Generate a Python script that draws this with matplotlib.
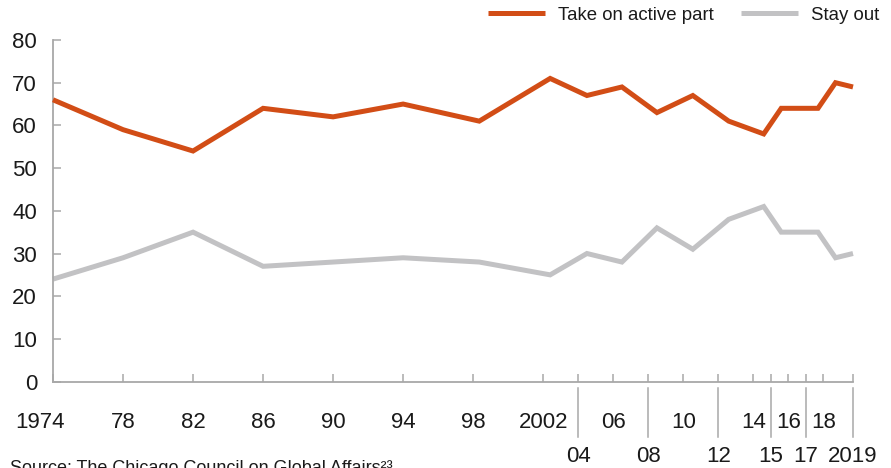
import matplotlib
matplotlib.use("Agg")
import matplotlib.pyplot as plt
import matplotlib.transforms as mtransforms

plt.rcParams["font.family"] = ["Liberation Sans", "DejaVu Sans"]

# Survey timing (fractional years)
survey_time = [1974, 1978, 1982, 1986, 1990, 1994, 1998.35, 2002.4, 2004.5, 2006.5,
               2008.5, 2010.55, 2012.6, 2014.6, 2015.6, 2017.7, 2018.7, 2019.7]
active_part = [66, 59, 54, 64, 62, 65, 61, 71, 67, 69, 63, 67, 61, 58, 64, 64, 70, 69]
stay_out = [24, 29, 35, 27, 28, 29, 28, 25, 30, 28, 36, 31, 38, 41, 35, 35, 29, 30]

tick_years = [1974, 1978, 1982, 1986, 1990, 1994, 1998, 2002, 2004, 2006, 2008,
              2010, 2012, 2014, 2015, 2016, 2017, 2018, 2019]
upper_labels = {1974: "1974", 1978: "78", 1982: "82", 1986: "86", 1990: "90", 1994: "94",
                1998: "98", 2002: "2002", 2006: "06", 2010: "10", 2014: "14", 2016: "16",
                2018: "18"}
lower_labels = {2004: "04", 2008: "08", 2012: "12", 2015: "15", 2017: "17", 2019: "2019"}

ORANGE = "#D24D16"
GREY = "#C2C2C4"
AXIS = "#A8A8A8"
TEXT = "#1a1a1a"

W, H = 891, 468
fig = plt.figure(figsize=(W / 100, H / 100), dpi=100)
ax = fig.add_axes([53 / W, 1 - 381.6 / H, 800 / W, 341.6 / H])

ax.plot(survey_time, active_part, color=ORANGE, lw=3.6, solid_joinstyle="miter",
        solid_capstyle="butt", label="Take on active part", clip_on=False, zorder=3)
ax.plot(survey_time, stay_out, color=GREY, lw=3.6, solid_joinstyle="miter",
        solid_capstyle="butt", label="Stay out", clip_on=False, zorder=2)

x_end = survey_time[-1]
ax.set_xlim(1974, x_end)
ax.set_ylim(0, 80)
ax.set_yticks(range(0, 81, 10))

# the 2019 tick sits at the end of the axis
tick_pos = [y if y != 2019 else x_end for y in tick_years]
ax.set_xticks(tick_pos)
ax.tick_params(axis="x", direction="in", length=6, width=1.1, color=AXIS, labelbottom=False)
ax.tick_params(axis="y", direction="in", length=6, width=1.1, color=AXIS,
               labelsize=16, labelcolor=TEXT, pad=11.5)

for s in ["top", "right"]:
    ax.spines[s].set_visible(False)
for s in ["left", "bottom"]:
    ax.spines[s].set_color(AXIS)
    ax.spines[s].set_linewidth(1.3)

# two-row year labels under the axis
trans = mtransforms.blended_transform_factory(ax.transData, fig.transFigure)
for yr, lab in upper_labels.items():
    xt = yr if yr != 2019 else x_end
    off = mtransforms.offset_copy(trans, fig=fig, x=-13 if yr == 1974 else 0, units="dots")
    fig.text(xt, 1 - 422 / H, lab, transform=off, ha="center", va="center",
             fontsize=16, color=TEXT)
for yr, lab in lower_labels.items():
    xt = yr if yr != 2019 else x_end
    fig.text(xt, 1 - 456 / H, lab, transform=trans, ha="center", va="center",
             fontsize=16, color=TEXT)
    ax.plot([xt, xt], [1 - 388 / H, 1 - 437 / H], transform=trans, color=AXIS,
            lw=1.1, clip_on=False)

fig.legend(loc="center right", bbox_to_anchor=(879 / W, 1 - 15 / H), ncol=2, frameon=False,
           fontsize=13.4, handlelength=3.05, handletextpad=0.7, columnspacing=1.45,
           borderpad=0, borderaxespad=0, labelcolor=TEXT)

fig.text(10 / W, 1 - 460 / H, "Source: The Chicago Council on Global Affairs²³",
         ha="left", va="top", fontsize=13, color=TEXT)

fig.savefig("out.png", dpi=100)
plt.close(fig)
